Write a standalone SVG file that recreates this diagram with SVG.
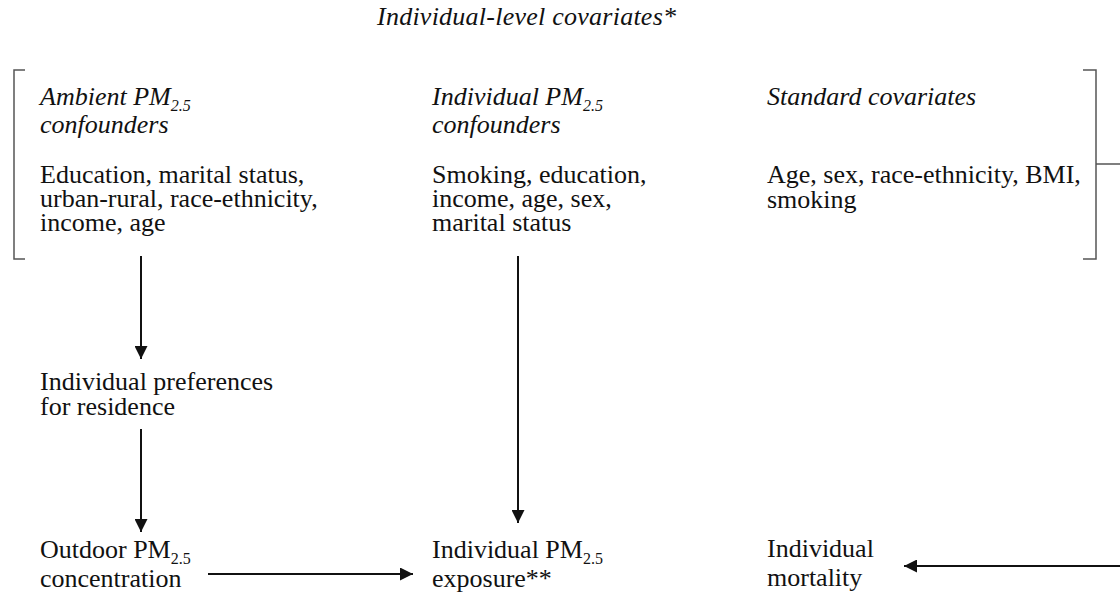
<svg xmlns="http://www.w3.org/2000/svg" width="1120" height="599" viewBox="0 0 1120 599">
<style>
text{font-family:'Liberation Serif','Times New Roman',serif;font-size:26px;fill:#111}
.it{font-style:italic}
.sub{font-size:16px}
.bracket{fill:none;stroke:#555;stroke-width:1.5}
.conn{fill:none;stroke:#111;stroke-width:2}
</style>
<defs>
<marker id="ah" viewBox="0 0 10 10" refX="10" refY="5" markerWidth="13" markerHeight="13" markerUnits="userSpaceOnUse" orient="auto">
<path d="M0,0 L10,5 L0,10 z" fill="#111"/>
</marker>
</defs>
<g id="title"><text font-family="Liberation Serif" class="it" x="377" y="25" textLength="299">Individual-level covariates*</text></g>
<g id="bracket-left"><path class="bracket" d="M25,70 H14 V259 H25"/></g>
<g id="bracket-right"><path class="bracket" d="M1083,70 H1096 V259 H1083 M1096,164 H1120"/></g>
<g id="ambient">
<text font-family="Liberation Serif" class="it" x="40" y="105">Ambient PM<tspan class="sub" dy="6">2.5</tspan></text>
<text font-family="Liberation Serif" class="it" x="40" y="133">confounders</text>
<text font-family="Liberation Serif" x="40" y="183">Education, marital status,</text>
<text font-family="Liberation Serif" x="40" y="207">urban-rural, race-ethnicity,</text>
<text font-family="Liberation Serif" x="40" y="231">income, age</text>
</g>
<g id="individual-conf">
<text font-family="Liberation Serif" class="it" x="432" y="105">Individual PM<tspan class="sub" dy="6">2.5</tspan></text>
<text font-family="Liberation Serif" class="it" x="432" y="133">confounders</text>
<text font-family="Liberation Serif" x="432" y="183">Smoking, education,</text>
<text font-family="Liberation Serif" x="432" y="207">income, age, sex,</text>
<text font-family="Liberation Serif" x="432" y="231">marital status</text>
</g>
<g id="standard">
<text font-family="Liberation Serif" class="it" x="767" y="105">Standard covariates</text>
<text font-family="Liberation Serif" x="767" y="183">Age, sex, race-ethnicity, BMI,</text>
<text font-family="Liberation Serif" x="767" y="208">smoking</text>
</g>
<g id="preferences">
<text font-family="Liberation Serif" x="40" y="390">Individual preferences</text>
<text font-family="Liberation Serif" x="40" y="415">for residence</text>
</g>
<g id="outdoor">
<text font-family="Liberation Serif" x="40" y="558">Outdoor PM<tspan class="sub" dy="6">2.5</tspan></text>
<text font-family="Liberation Serif" x="40" y="587">concentration</text>
</g>
<g id="exposure">
<text font-family="Liberation Serif" x="432" y="558">Individual PM<tspan class="sub" dy="6">2.5</tspan></text>
<text font-family="Liberation Serif" x="432" y="587">exposure**</text>
</g>
<g id="mortality">
<text font-family="Liberation Serif" x="767" y="557">Individual</text>
<text font-family="Liberation Serif" x="767" y="586">mortality</text>
</g>
<g id="connectors">
<path class="conn" d="M141,256 V359" marker-end="url(#ah)"/>
<path class="conn" d="M141,429 V532" marker-end="url(#ah)"/>
<path class="conn" d="M518,256 V523" marker-end="url(#ah)"/>
<path class="conn" d="M208,574 H413" marker-end="url(#ah)"/>
<path class="conn" d="M1120,566 H904" marker-end="url(#ah)"/>
</g>
</svg>
